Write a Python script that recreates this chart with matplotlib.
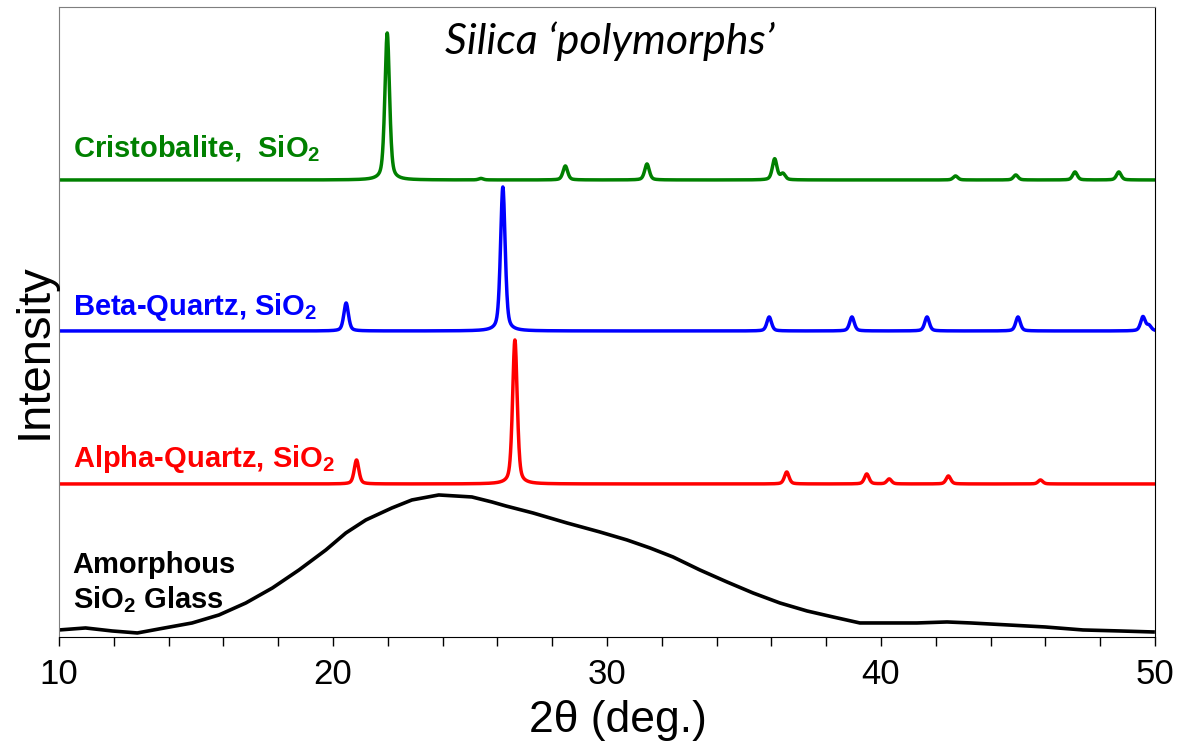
import matplotlib
matplotlib.use('Agg')
import matplotlib.pyplot as plt
from matplotlib.ticker import MultipleLocator
import numpy as np

# peak lists: 2theta position, height above baseline
cristobalite_pos = [21.98, 25.4, 28.48, 31.46, 36.12, 36.42, 42.72, 44.92, 47.08, 48.68]
cristobalite_h = [147, 1.5, 14, 16, 21, 6, 4, 5, 8, 8]
beta_pos = [20.48, 26.2, 35.92, 38.94, 41.68, 45.0, 49.56, 49.78]
beta_h = [28, 144, 14, 14, 14, 14, 14, 5]
alpha_pos = [20.86, 26.64, 36.56, 39.48, 40.3, 42.46, 45.82]
alpha_h = [24, 144, 12, 10, 5, 8, 4]

# baselines (plot units)
base_cristobalite = 457
base_beta = 306
base_alpha = 153

# amorphous glass pattern
glass_x = [10.0, 10.97, 11.94, 12.86, 13.65, 14.86, 15.84, 16.82, 17.79, 18.76, 19.74,
           20.47, 21.2, 22.15, 22.88, 23.86, 25.07, 25.8, 26.31, 27.3, 28.54, 29.74,
           30.73, 31.57, 32.41, 33.39, 34.38, 35.33, 36.31, 37.3, 38.25, 39.23, 40.22,
           41.31, 42.41, 43.28, 44.64, 45.99, 47.37, 48.72, 49.93]
glass_y = [7, 9, 6, 4, 8, 14, 22, 34, 49, 67, 87,
           104, 117, 129, 137, 142, 140, 135, 131, 124, 114, 105,
           97, 89, 80, 67, 55, 44, 34, 26, 20, 14, 14,
           14, 15, 14, 12, 10, 7, 6, 5]

green = '#008000'
blue = '#0000FF'
red = '#FF0000'


def pattern(x, pos, h, fwhm=0.2, eta=0.45):
    y = np.zeros_like(x)
    for p, a in zip(pos, h):
        g = np.exp(-4 * np.log(2) * (x - p) ** 2 / fwhm ** 2)
        l = 1 / (1 + 4 * (x - p) ** 2 / fwhm ** 2)
        y += a * (eta * l + (1 - eta) * g)
    return y


plt.rcParams['mathtext.fontset'] = 'custom'
plt.rcParams['mathtext.rm'] = 'Liberation Sans:bold'
plt.rcParams['mathtext.bf'] = 'Liberation Sans:bold'
plt.rcParams['mathtext.it'] = 'Liberation Sans:bold'

fig = plt.figure(figsize=(11.84, 7.41), dpi=100)
ax = fig.add_axes([0.0498, 0.1404, 0.9257, 0.8502])

x = np.linspace(10, 50, 4001)
ax.plot(x, base_cristobalite + pattern(x, cristobalite_pos, cristobalite_h), color=green, lw=2.5)
ax.plot(x, base_beta + pattern(x, beta_pos, beta_h), color=blue, lw=2.5)
ax.plot(x, base_alpha + pattern(x, alpha_pos, alpha_h), color=red, lw=2.5)
ax.plot(glass_x, glass_y, color='black', lw=2.6)

ax.set_xlim(10, 50)
ax.set_ylim(0, 630)
ax.set_yticks([])
ax.xaxis.set_major_locator(MultipleLocator(10))
ax.xaxis.set_minor_locator(MultipleLocator(2))
ax.tick_params(axis='x', which='both', direction='out', length=6.5, width=1, top=False)
ax.tick_params(axis='x', which='major', labelsize=25, pad=9)
for lab in ax.get_xticklabels():
    lab.set_family('Liberation Sans')

ax.spines['left'].set_color('#7f7f7f')
ax.spines['top'].set_color('#7f7f7f')
ax.spines['right'].set_color('black')
ax.spines['bottom'].set_color('black')

fig.text(0.522, 0.012, '2\u03b8 (deg.)', fontsize=32, family='Liberation Sans',
         ha='center', va='baseline')
fig.text(0.011, 0.526, 'Intensity', fontsize=34, family='Liberation Sans',
         rotation=90, ha='left', va='center')

lbl = dict(fontsize=21, fontweight='bold', family='Liberation Sans')
ax.text(10.5, 480, r'Cristobalite,  SiO$_\mathbf{2}$', color=green, **lbl)
ax.text(10.5, 322, r'Beta-Quartz, SiO$_\mathbf{2}$', color=blue, **lbl)
ax.text(10.5, 170, r'Alpha-Quartz, SiO$_\mathbf{2}$', color=red, **lbl)
ax.text(10.5, 64, 'Amorphous', color='black', **lbl)
ax.text(10.5, 29, r'SiO$_\mathbf{2}$ Glass', color='black', **lbl)

ax.text(30.1, 583, 'Silica \u2018polymorphs\u2019', fontsize=31,
        family='Lato', style='italic', ha='center')

plt.savefig('out.png', dpi=100)
